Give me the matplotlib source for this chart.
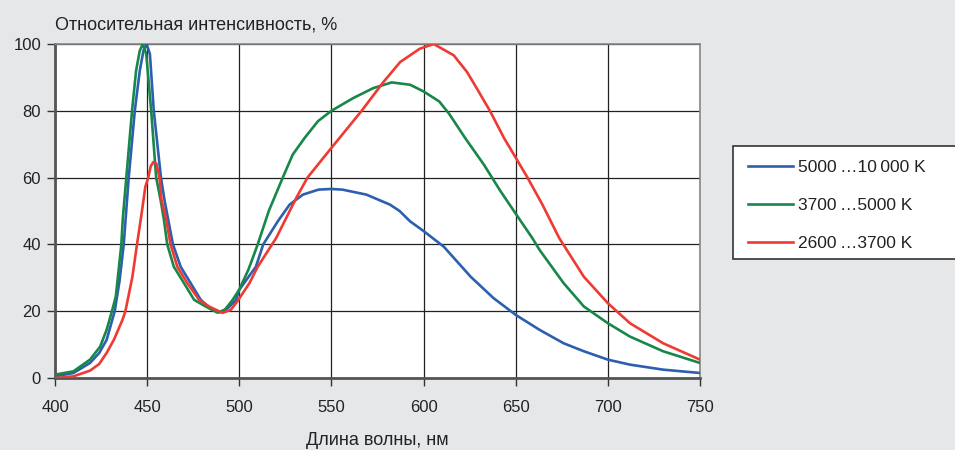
import matplotlib
matplotlib.use("Agg")
import matplotlib.pyplot as plt
from matplotlib.patches import Rectangle

# ---------------- data ----------------
wl_blue = [400, 410, 419, 424, 428, 432.4, 435, 437.3, 440, 443.3, 446, 448, 449.7, 451.5,
           453.6, 457.5, 459.5, 464, 468.2, 473.6, 479.1, 484, 489, 494, 498.2, 500, 504,
           509, 513, 521, 527.3, 534.5, 543, 550, 556, 569, 581.8, 587, 592.7, 600, 611,
           625.6, 638, 650, 663, 676, 687, 700, 712, 730, 750]
val_blue = [0.5, 1.5, 4.5, 7.5, 11.4, 20, 29, 40, 60, 80, 92, 98, 100, 97,
            80, 60, 53, 40, 33.3, 28.4, 23.4, 21, 19.6, 21, 23.4, 26.4, 29.5,
            33.3, 40, 47, 51.9, 54.9, 56.4, 56.6, 56.4, 54.9, 51.9, 50, 46.9, 44, 39.3,
            30.3, 23.9, 18.9, 14.4, 10.4, 8, 5.5, 4, 2.5, 1.5]

wl_green = [400, 410, 419, 424.5, 428, 430.9, 433, 436, 436.8, 438.7, 441.8, 444, 446,
            447.6, 449.5, 452.2, 454.9, 457.3, 459, 460.9, 464.5, 470, 475.5, 481.8, 488,
            492, 496.4, 500, 505, 510, 516, 523.6, 529, 535.5, 542.7, 550, 561.8, 572.7,
            582.7, 592.7, 600, 608.5, 614, 622.5, 632.7, 641.8, 650, 659, 663, 676, 687,
            700, 712, 730, 750]
val_green = [1, 2, 5.5, 9.4, 14.4, 20, 24.4, 40, 47.8, 60, 80, 92, 98,
             100, 97, 80, 60, 53.3, 47.8, 40, 33.3, 28.4, 23.4, 21.4, 19.6,
             20.3, 23.4, 26.5, 32.5, 40, 50, 60, 66.9, 71.9, 76.9, 80, 83.8, 86.8,
             88.5, 87.8, 85.8, 82.8, 79, 71.9, 63.9, 55.9, 49.2, 41.9, 38.3, 28.4, 21.4,
             16.4, 12.4, 8, 4.5]

wl_red = [400, 410, 419, 424, 428, 432, 436.6, 438.2, 442, 444.5, 447.2, 449, 450.6,
          452, 453.5, 455, 456.7, 457.8, 460.2, 462.7, 466.4, 471.8, 478.2, 483.6, 490.9,
          495.4, 499, 505.5, 510, 520, 531, 537, 550, 566.4, 578.2, 587.3, 598, 605.5,
          616.4, 623.6, 629, 636, 643.6, 649, 656.4, 664.5, 673.6, 687, 700, 712, 730, 750]
val_red = [0, 0.5, 2.2, 4.2, 7.5, 11.5, 17.4, 20, 30.3, 40, 50, 57.2, 60,
           63.5, 64.7, 64.2, 60, 53.3, 47.9, 40, 33.3, 28.4, 23.4, 21.4, 19.5,
           20.4, 23, 28.4, 33.3, 41.9, 54, 60, 68.9, 80, 88.6, 94.6, 98.6, 100,
           96.6, 91.6, 86.6, 80, 71.9, 66.9, 60, 51.9, 41.9, 30.3, 22.4, 16.4, 10.4, 5.5]

series_labels = ["5000\u2009…10\u2009000 K", "3700\u2009…5000 K", "2600\u2009…3700 K"]
x_ticks = [400, 450, 500, 550, 600, 650, 700, 750]
y_ticks = [0, 20, 40, 60, 80, 100]
title_text = "Относительная интенсивность, %"
xlabel_text = "Длина волны, нм"

# ---------------- style ----------------
plt.rcParams["font.family"] = ["Liberation Sans", "DejaVu Sans"]

BG = "#e6e7e9"
c_blue, c_green, c_red = "#2c5fae", "#17874a", "#ee3a32"

W, H = 955, 450
fig = plt.figure(figsize=(W/100, H/100), dpi=100, facecolor=BG)
ax = fig.add_axes([55/W, 72/H, 645/W, 334/H])
ax.set_facecolor("white")

ax.plot(wl_blue, val_blue, color=c_blue, lw=1.9, label=series_labels[0], zorder=3)
ax.plot(wl_green, val_green, color=c_green, lw=1.9, label=series_labels[1], zorder=3)
ax.plot(wl_red, val_red, color=c_red, lw=1.9, label=series_labels[2], zorder=3)

ax.set_xlim(400, 750)
ax.set_ylim(0, 100)
ax.set_xticks(x_ticks)
ax.set_yticks(y_ticks)
ax.grid(True, color="#222222", lw=0.9)
ax.set_axisbelow(True)
ax.tick_params(axis="both", direction="out", length=6, width=1, color="#333333",
               labelsize=12, labelcolor="#222222")
ax.tick_params(axis="x", pad=10)
ax.tick_params(axis="y", pad=4)
for s in ["left", "bottom"]:
    ax.spines[s].set_color("#555555")
    ax.spines[s].set_linewidth(2)
for s in ["right", "top"]:
    ax.spines[s].set_color("#888888")
    ax.spines[s].set_linewidth(1.2)

fig.text(55/W, 1 - 25/H, title_text, fontsize=13, color="#222222", va="center", ha="left")
ax.set_xlabel(xlabel_text, fontsize=13, color="#222222", labelpad=12)

# legend box running off the right edge, as in the reference
fig.patches.append(Rectangle((733/W, 1 - 259/H), 240/W, 113/H, transform=fig.transFigure,
                             facecolor="white", edgecolor="#333333", lw=1.2, zorder=1))
leg = fig.legend(loc="upper left", bbox_to_anchor=(736/W, 1 - 148/H),
                 frameon=False, fontsize=12.5, handlelength=2.6,
                 labelspacing=1.3, borderpad=0.7, handletextpad=0.3, borderaxespad=0)
for t in leg.get_texts():
    t.set_color("#222222")

fig.savefig("out.png", dpi=100, facecolor=BG)
